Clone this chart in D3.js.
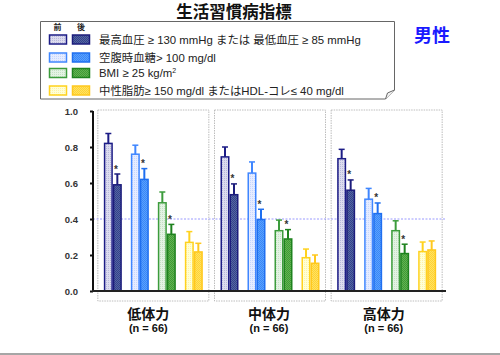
<!DOCTYPE html>
<html><head><meta charset="utf-8">
<script src="https://d3js.org/d3.v7.min.js"></script>
<style>
body{margin:0;background:#fff;}
svg{display:block;font-family:"Liberation Sans",Arial,"Noto Sans CJK JP",sans-serif;}
</style></head>
<body><svg id="c" width="500" height="355"></svg>
<script>
const groups = ["低体力","中体力","高体力"];
const groupN = ["(n = 66)","(n = 66)","(n = 66)"];
const indicators = ["bp","glu","bmi","tg"];
const phases = ["前","後"];
// values [group][indicator][phase]
const bpVals   = [[0.82,0.59],[0.745,0.535],[0.735,0.56]];
const bpErr    = [[0.875,0.65],[0.80,0.595],[0.787,0.617]];
const gluVals  = [[0.76,0.62],[0.655,0.397],[0.51,0.43]];
const gluErr   = [[0.81,0.68],[0.717,0.454],[0.57,0.489]];
const bmiVals  = [[0.49,0.315],[0.335,0.289],[0.335,0.208]];
const bmiErr   = [[0.55,0.37],[0.394,0.341],[0.39,0.26]];
const tgVals   = [[0.27,0.217],[0.185,0.154],[0.219,0.228]];
const tgErr    = [[0.33,0.265],[0.233,0.20],[0.272,0.278]];
const starMarks = [[false,true],[false,true],[false,true],[false,false]]; // per indicator, per phase
const yTicks = [0,0.2,0.4,0.6,0.8,1.0];
const refLine = 0.4;
const legendLabels = [
  "最高血圧 ≥ 130 mmHg または 最低血圧 ≥ 85 mmHg",
  "空腹時血糖> 100 mg/dl",
  "BMI ≥ 25 kg/m",
  "中性脂肪≥ 150 mg/dl またはHDL-コレ≤ 40 mg/dl"
];
const title = "生活習慣病指標";
const sexLabel = "男性";

const valsBy = {bp:bpVals, glu:gluVals, bmi:bmiVals, tg:tgVals};
const errBy = {bp:bpErr, glu:gluErr, bmi:bmiErr, tg:tgErr};

const styles = {
  bp:  [{fill:"#dcdcee",stroke:"#1c1c86",pat:"#b8b8dc"},{fill:"#5565a2",stroke:"#1c1c7c",pat:"#33438a"}],
  glu: [{fill:"#e6ecff",stroke:"#3f86ff",pat:"#c6d6ff"},{fill:"#5aa0ff",stroke:"#1f6ff0",pat:"#3a88f5"}],
  bmi: [{fill:"#e4f2e4",stroke:"#3c9c3c",pat:"#c4e2c4"},{fill:"#62b252",stroke:"#1e821e",pat:"#3f9a35"}],
  tg:  [{fill:"#ffffd6",stroke:"#ffd21e",pat:"#fff2a8"},{fill:"#ffe262",stroke:"#ffc81e",pat:"#ffd234"}]
};

const svg = d3.select("#c");
const defs = svg.append("defs");
indicators.forEach(k=>{
  styles[k].forEach((s,i)=>{
    const p = defs.append("pattern").attr("id",`p_${k}_${i}`).attr("patternUnits","userSpaceOnUse")
      .attr("width",2).attr("height",2);
    p.append("rect").attr("width",2).attr("height",2).attr("fill",s.fill);
    p.append("rect").attr("width",1).attr("height",1).attr("fill",s.pat);
    if(i===1) p.append("rect").attr("x",1).attr("y",1).attr("width",1).attr("height",1).attr("fill",s.pat);
  });
});

const y = d3.scaleLinear().domain([0,1]).range([291,111]);
const x0 = d3.scaleBand().domain(groups).range([95,445]);
const x1 = d3.scaleBand().domain(indicators).range([-54,54]).paddingInner(1/3).paddingOuter(1/6);
const xp = d3.scaleBand().domain(phases).range([0,x1.bandwidth()]);

// title
svg.append("text").attr("x",234).attr("y",18).attr("text-anchor","middle")
  .attr("font-size",16.5).attr("font-weight","bold").attr("fill","#111")
  .attr("font-family","'Noto Sans CJK JP',sans-serif").text(title);
svg.append("text").attr("x",432).attr("y",42).attr("text-anchor","middle")
  .attr("font-size",18).attr("font-weight","bold").attr("fill","#1a1aff")
  .attr("font-family","'Noto Sans CJK JP',sans-serif").text(sexLabel);

// legend box with folded corner
const lb = {x:40.5,y:21.5,w:354,h:77.5};
svg.append("path").attr("d",`M${lb.x},${lb.y}H${lb.x+lb.w}V${lb.y+lb.h-9}L${lb.x+lb.w-9},${lb.y+lb.h}H${lb.x}Z`)
  .attr("fill","#fff").attr("stroke","#666").attr("stroke-width",1);
svg.append("path").attr("d",`M${lb.x+lb.w},${lb.y+lb.h-9}L${lb.x+lb.w-7},${lb.y+lb.h-6}L${lb.x+lb.w-9},${lb.y+lb.h}`)
  .attr("fill","#f4f4f4").attr("stroke","#666").attr("stroke-width",1);
phases.forEach((p,i)=>{
  svg.append("text").attr("x",57.5+i*23.5).attr("y",30).attr("text-anchor","middle")
    .attr("font-size",8).attr("font-weight","bold").attr("fill","#222")
    .attr("font-family","'Noto Sans CJK JP',sans-serif").text(p);
});
const legRowY = [39.5,57.5,73,90.5];
indicators.forEach((k,r)=>{
  [0,1].forEach(i=>{
    svg.append("rect").attr("x",49.5+i*23).attr("y",legRowY[r]-4.5).attr("width",17).attr("height",9)
      .attr("fill",`url(#p_${k}_${i})`).attr("stroke",styles[k][i].stroke).attr("stroke-width",1.5);
  });
  const t = svg.append("text").attr("x",99).attr("y",legRowY[r]+4).attr("font-size",11.4).attr("fill","#222")
    .text(legendLabels[r]);
  if(k==="bmi") t.append("tspan").attr("font-size",7).attr("dy",-4).text("2");
});

// group dotted boxes
groups.forEach(g=>{
  svg.append("rect").attr("x",x0(g)+x0.bandwidth()/2-55.5).attr("y",110).attr("width",111).attr("height",191)
    .attr("fill","none").attr("stroke","#bdbdbd").attr("stroke-width",1).attr("stroke-dasharray","1.5,1");
});

// reference line
svg.append("line").attr("x1",93).attr("x2",446).attr("y1",y(refLine)).attr("y2",y(refLine))
  .attr("stroke","#9a9aff").attr("stroke-width",1).attr("stroke-dasharray","2,1.5");

// bars
groups.forEach((g,gi)=>{
  const cx = x0(g)+x0.bandwidth()/2;
  indicators.forEach((k,ki)=>{
    phases.forEach((p,pi)=>{
      const v = valsBy[k][gi][pi], e = errBy[k][gi][pi];
      const bx = cx + x1(k) + xp(p);
      const bw = xp.bandwidth();
      const st = styles[k][pi];
      svg.append("rect").attr("x",bx+0.75).attr("y",y(v)).attr("width",bw-1.5).attr("height",y(0)-y(v))
        .attr("fill",`url(#p_${k}_${pi})`).attr("stroke",st.stroke).attr("stroke-width",1.5);
      const ex = bx+bw/2;
      svg.append("line").attr("x1",ex).attr("x2",ex).attr("y1",y(v)).attr("y2",y(e))
        .attr("stroke",st.stroke).attr("stroke-width",2);
      svg.append("line").attr("x1",ex-3).attr("x2",ex+3).attr("y1",y(e)).attr("y2",y(e))
        .attr("stroke",st.stroke).attr("stroke-width",1.5);
      if(starMarks[ki][pi]){
        svg.append("text").attr("x",bx+3).attr("y",y(e)-1.5).attr("text-anchor","middle")
          .attr("font-size",10).attr("font-weight","bold").attr("fill","#333").text("*");
      }
    });
  });
});

// axes
const yAxis = d3.axisLeft(y).tickValues(yTicks).tickFormat(d3.format(".1f")).tickSize(3).tickPadding(12);
const ga = svg.append("g").attr("transform","translate(93,0)").call(yAxis);
ga.select(".domain").attr("stroke","#111").attr("stroke-width",2).attr("d",`M0,${y(1)}V${y(0)}`);
ga.selectAll(".tick line").attr("stroke","#111").attr("stroke-width",2);
ga.selectAll(".tick text").attr("font-size",9.5).attr("font-weight","bold").attr("fill","#333")
  .attr("font-family","'Liberation Sans',Arial,sans-serif");
svg.append("line").attr("x1",92).attr("x2",446).attr("y1",y(0)).attr("y2",y(0))
  .attr("stroke","#222").attr("stroke-width",2);

// category labels
const labelShift = [-5,-1,-3];
groups.forEach((g,gi)=>{
  const cx = x0(g)+x0.bandwidth()/2 + labelShift[gi];
  svg.append("text").attr("x",cx).attr("y",318.5).attr("text-anchor","middle")
    .attr("font-size",14).attr("font-weight","bold").attr("fill","#111")
    .attr("font-family","'Noto Sans CJK JP',sans-serif").text(g);
  svg.append("text").attr("x",cx).attr("y",332).attr("text-anchor","middle")
    .attr("font-size",11).attr("font-weight","bold").attr("fill","#111").text(groupN[gi]);
});

// bottom rule
svg.append("line").attr("x1",0).attr("x2",500).attr("y1",354).attr("y2",354)
  .attr("stroke","#888").attr("stroke-width",1.5);
</script></body></html>
